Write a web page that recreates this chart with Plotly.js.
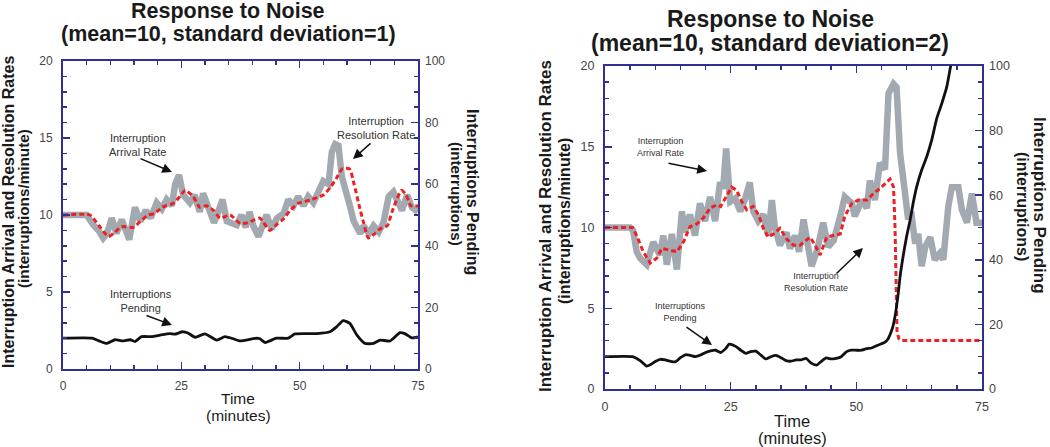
<!DOCTYPE html>
<html>
<head>
<meta charset="utf-8">
<script src="https://cdn.plot.ly/plotly-3.0.1.min.js"></script>
<style>
  html, body { margin: 0; padding: 0; background: #ffffff; }
  #chart { width: 1050px; height: 447px; }
</style>
</head>
<body>
<div id="chart"></div>
<script>
// ---------------- DATA ----------------
// Left panel (standard deviation = 1)
const arrivalT1 = [0,5,6.4,7.5,8.5,9.3,10.3,11.3,12.4,13.4,14.0,15.2,16.3,17.5,18.5,19.8,20.9,21.9,23.0,23.7,24.5,25.4,26.8,27.8,28.9,29.6,30.7,31.9,32.8,33.7,34.6,35.5,36.7,37.7,38.6,39.4,40.2,41.3,42.3,43.0,44.1,45.2,46.6,47.6,48.7,49.7,50.8,51.8,52.9,54.0,55.0,56.1,56.8,57.5,58.2,58.9,60.0,60.7,61.4,62.1,62.8,63.5,64.6,65.6,66.7,67.7,68.8,69.8,70.9,71.6,72.7,73.7,75];
const arrival1 = [10,10,9.35,9.0,8.5,8.8,9.8,8.8,9.7,9.0,8.4,10.5,9.6,10.3,9.8,10.8,10.4,11.0,10.6,12.0,12.6,11.3,10.8,11.3,10.2,11.4,10.4,9.5,10.2,11.0,9.6,9.5,9.35,10.0,9.2,10.2,9.3,8.6,9.3,10.0,9.1,9.8,10.1,11.0,10.6,11.2,10.6,11.2,10.8,11.5,12.2,12.0,14.1,14.6,14.5,12.5,11.0,10.5,9.6,9.2,8.8,9.3,8.8,9.3,8.9,9.5,11.2,11.5,10.6,10.3,11.3,10.5,10.2];

const resolutionT1 = [0,5.7,7.5,9.6,11,12.4,14.8,16.3,18,19.4,20.9,23.3,24.7,25.8,27.5,28.9,30.3,31.8,33.2,35.3,37.4,39,40.5,41.6,43.7,45.2,46.5,48,49.7,52.2,55,56.5,57.8,59,60.5,61.5,62.5,63.5,64.5,65.5,67,68.5,69.5,70.5,71.5,72.5,73.5,75];
const resolution1 = [10,10,9.35,8.6,8.9,9.24,9.2,9.57,10.0,10.1,10.5,10.76,11.2,11.6,11.2,10.5,10.6,10.3,9.8,10.0,9.46,9.5,9.7,9.8,9.0,9.4,9.72,10.3,10.76,10.97,11.3,11.8,12.4,13.0,13.0,12.0,10.7,9.5,8.5,8.7,9.1,9.3,10.2,11.0,11.6,11.3,10.6,10.6];

const pendingT1 = [0,6.1,7.5,9.2,11,12.6,14.2,15.2,16.6,18.7,20.5,22.6,23.6,25.3,26.5,27.9,30,32.5,34.2,35.8,37.4,40.6,41.5,42.7,45.1,47.6,49,53.6,56.4,57.8,59.2,60.6,62.1,63.8,65.6,67,69.1,71.2,72.2,73.7,75];
const pending1 = [10,10,9.2,8.3,9.5,9.1,9.5,8.9,10.5,10.5,11,11.5,11.3,12.1,11.6,10.3,11.4,9.4,10.5,9.9,9.1,9.96,9.9,8.6,10,10,11.4,11.5,12.1,13.7,15.7,14.8,11,8.3,8.3,9.4,9.1,11.8,11.5,10.1,10.4];

// Right panel (standard deviation = 2)
const arrivalT2 = [0,5,5.6,6.3,7.0,8.3,9.6,10.9,11.6,12.3,13.3,14.3,15.3,15.9,16.9,17.9,18.9,19.9,20.9,21.9,22.9,23.5,24.1,24.9,25.9,26.9,27.9,28.8,29.5,30.5,31.5,32.5,33.2,33.8,34.8,36.1,36.8,37.8,38.6,39.5,40.3,41.1,42.2,43.4,44.4,45.5,46.8,47.7,49.1,49.7,51.1,52.1,52.7,53.7,54.7,55.7,56.4,57.4,58.0,58.7,59.7,60.3,60.9,61.7,62.3,63.0,63.7,64.7,65.6,66.6,67.3,68.3,69.0,70.3,71.0,72.0,73.0,73.9,75];
const arrival2 = [10,10,9.8,8.5,8.1,7.7,9.1,8.3,9.5,7.7,9.6,7.4,11.0,9.7,10.8,9.5,11.5,10.4,11.9,10.4,12.8,12.4,14.9,11.6,11.8,11.0,11.8,12.8,11.0,10.4,10.8,9.5,11.7,10.0,8.9,9.7,8.7,9.5,8.5,10.5,9.0,7.6,8.6,10.3,8.8,9.2,10.7,11.9,11.5,10.7,11.7,11.2,12.9,11.7,14.0,13.6,18.3,18.9,18.7,14.6,12.1,10.5,11.0,9.0,9.6,7.6,8.8,9.4,8.0,8.4,8.0,11.3,12.5,12.5,11.1,10.3,12.1,10.3,10.3];

const resolutionT2 = [0,5.5,6.3,7.6,9.0,10.3,11.3,12.9,14.3,15.6,16.9,18.2,19.6,20.9,22.2,23.0,24.2,25.2,26.2,27.2,28.2,29.5,30.5,31.5,32.5,33.5,34.8,36.1,37.5,38.8,40.8,41.8,42.8,44.1,45.4,46.8,47.7,49.1,50.4,52.1,53.4,55.0,56.7,57.4,57.7,57.9,58.1,58.5,59.0,75];
const resolution2 = [10,10,9.5,8.5,7.8,8.1,8.7,8.6,8.5,9.1,10.05,10.2,10.6,11.2,11.4,11.3,12.0,12.5,12.3,11.6,11.1,11.3,10.8,9.95,9.4,9.6,9.95,9.3,8.9,8.9,9.4,8.9,8.3,9.4,9.5,9.6,10.7,11.5,11.7,11.7,12.1,12.5,13.0,12.5,10.0,5.5,3.5,3.1,3.0,3.0];

const pendingT2 = [0,5.5,7,8.3,9,10,11,12,13,14,15,16,17,18,19,20,21,22,23,24,24.7,26,27,28,29,30,31,32,33,34,35,36,37,38,39,40,41,42.1,43,44,45,46,47,48,49,50,51,52,53,54,55,55.7,56.3,56.8,57.3,57.7,58.0,58.4,58.7,59.3,60,60.7,61.3,62,63,64,65,66,67,68,68.8,69.3];
const pending2 = [10,10,8.8,7.1,7.5,8.5,9.2,9.0,8.6,8.4,9.7,10.6,10.4,10.0,10.5,11.3,11.8,12.0,11.3,12.5,13.9,13.2,12.0,11.0,11.6,11.7,10.5,9.3,10.0,10.4,9.7,8.8,8.6,9.0,9.0,9.5,8.0,7.4,8.5,9.6,9.3,9.5,10.0,11.5,12.0,12.0,12.0,12.5,12.7,13.4,14.0,14.5,15.5,17.2,19.5,22.5,25.5,30.5,34.8,41,47.2,52.3,57.5,62.6,67.8,71.9,77.1,83.8,88.4,93.6,100.3,104];

const xTicks = [0, 25, 50, 75];
const titleLine1 = "Response to Noise";
const titleLine2 = ["(mean=10, standard deviation=1)", "(mean=10, standard deviation=2)"];
const yTitle = ["Interruption Arrival and Resolution Rates", "(interruptions/minute)"];
const y2Title = ["Interruptions Pending", "(interruptions)"];
const xTitle = ["Time", "(minutes)"];
const labelArrival = "Interruption<br>Arrival Rate";
const labelResolution = "Interruption<br>Resolution Rate";
const labelPending = "Interruptions<br>Pending";

// ---------------- STYLE ----------------
const W = 1050, H = 447;
const FONT = "Liberation Sans, Arial, Helvetica, sans-serif";
const NAVY = "rgb(46,49,146)";
const GRAY = "rgb(163,169,177)";
const RED = "rgb(237,32,36)";
const BLACK = "#111111";
const px = x => x / W;
const py = y => 1 - y / H;

function grayTrace(x, y, xa, ya) {
  return {x, y, xaxis: xa, yaxis: ya, mode: "lines", type: "scatter",
          line: {color: GRAY, width: 6.5}, hoverinfo: "skip", showlegend: false};
}
function redTrace(x, y, xa, ya, smooth) {
  return {x, y, xaxis: xa, yaxis: ya, mode: "lines", type: "scatter",
          line: {color: RED, width: 3, dash: "5px,3px", shape: smooth ? "spline" : "linear", smoothing: 0.6},
          hoverinfo: "skip", showlegend: false};
}
function blackTrace(x, y, xa, ya) {
  return {x, y, xaxis: xa, yaxis: ya, mode: "lines", type: "scatter",
          line: {color: BLACK, width: 2.8, shape: "spline", smoothing: 0.5}, hoverinfo: "skip", showlegend: false};
}

const traces = [
  grayTrace(arrivalT1, arrival1, "x", "y"),
  redTrace(resolutionT1, resolution1, "x", "y", true),
  blackTrace(pendingT1, pending1, "x", "y2"),
  grayTrace(arrivalT2, arrival2, "x2", "y3"),
  redTrace(resolutionT2, resolution2, "x2", "y3", false),
  blackTrace(pendingT2, pending2, "x2", "y4")
];

function xAxis(domain, anchor, fs) {
  return {domain, anchor, range: [0, 75], tickvals: xTicks, ticks: "inside", ticklen: 7,
          tickwidth: 1.5, tickcolor: NAVY, showline: true, linecolor: NAVY, linewidth: 2,
          mirror: "ticks", showgrid: false, zeroline: false, ticklabelstandoff: 5,
          tickfont: {family: FONT, size: fs, color: "#444"},
          minor: {dtick: 5, ticks: "inside", ticklen: 4, tickwidth: 1.5, tickcolor: NAVY, showgrid: false}};
}
function yAxisL(domain, anchor, fs) {
  return {domain, anchor, range: [0, 20], dtick: 5, ticks: "inside", ticklen: 7,
          tickwidth: 1.5, tickcolor: NAVY, showline: true, linecolor: NAVY, linewidth: 2,
          mirror: true, showgrid: false, zeroline: false, ticklabelstandoff: 6,
          tickfont: {family: FONT, size: fs, color: "#444"},
          minor: {dtick: 1, ticks: "inside", ticklen: 4, tickwidth: 1.5, tickcolor: NAVY, showgrid: false}};
}
function yAxisR(over, anchor, fs) {
  return {overlaying: over, anchor, side: "right", range: [0, 100], dtick: 20, ticks: "inside", ticklen: 7,
          tickwidth: 1.5, tickcolor: NAVY, showline: false, showgrid: false, zeroline: false,
          ticklabelstandoff: 6, tickfont: {family: FONT, size: fs, color: "#444"},
          minor: {dtick: 5, ticks: "inside", ticklen: 4, tickwidth: 1.5, tickcolor: NAVY, showgrid: false}};
}

function txt(text, x, y, size, opts) {
  return Object.assign({text, xref: "paper", yref: "paper", x: px(x), y: py(y),
          xanchor: "center", yanchor: "middle", showarrow: false,
          font: {family: FONT, size, color: "#1a1a1a"}}, opts || {});
}
function arrow(tipX, tipY, tailX, tailY) {
  return {text: "", xref: "paper", yref: "paper", x: px(tipX), y: py(tipY),
          ax: tailX - tipX, ay: tailY - tipY, showarrow: true, arrowhead: 2,
          arrowsize: 1.3, arrowwidth: 1.5, arrowcolor: "#111"};
}
const small = (s) => ({font: {family: FONT, size: s, color: "#333"}});

const annotations = [
  // Left panel titles
  txt("<b>" + titleLine1 + "</b>", 228, 11.5, 21.5),
  txt("<b>" + titleLine2[0] + "</b>", 228, 33.5, 21.5),
  txt("<b>" + yTitle[0] + "</b>", 8, 212, 16, {textangle: -90}),
  txt("<b>" + yTitle[1] + "</b>", 24, 209, 15.3, {textangle: -90}),
  txt("<b>" + y2Title[0] + "</b>", 473, 192, 16, {textangle: 90}),
  txt("<b>" + y2Title[1] + "</b>", 457, 194, 15.2, {textangle: 90}),
  txt(xTitle[0], 238, 398, 15.5),
  txt(xTitle[1], 238, 415, 15.5),
  txt(labelArrival, 137, 144.5, 11, small(11)),
  txt(labelResolution, 376, 128, 11, small(11)),
  txt(labelPending, 141, 300.5, 11, small(11)),
  arrow(172, 172, 139, 158),
  arrow(353, 159, 372, 142),
  arrow(172, 325, 145, 315),
  // Right panel titles
  txt("<b>" + titleLine1 + "</b>", 770, 19, 23),
  txt("<b>" + titleLine2[1] + "</b>", 770, 42.5, 23),
  txt("<b>" + yTitle[0] + "</b>", 545, 226, 17, {textangle: -90}),
  txt("<b>" + yTitle[1] + "</b>", 564, 221, 16, {textangle: -90}),
  txt("<b>" + y2Title[0] + "</b>", 1040, 205, 17, {textangle: 90}),
  txt("<b>" + y2Title[1] + "</b>", 1023, 206, 16, {textangle: 90}),
  txt(xTitle[0], 792, 421, 16.5),
  txt(xTitle[1], 792, 438, 16.5),
  txt(labelArrival, 660, 146.5, 9, small(9)),
  txt(labelResolution, 816, 282, 9, small(9)),
  txt(labelPending, 680, 312, 9, small(9)),
  arrow(707, 171, 667, 163),
  arrow(863, 248, 835, 275),
  arrow(712, 345, 685, 326)
];

const layout = {
  width: W, height: H,
  margin: {l: 0, r: 0, t: 0, b: 0},
  paper_bgcolor: "#ffffff", plot_bgcolor: "#ffffff",
  showlegend: false,
  font: {family: FONT},
  xaxis: xAxis([px(63), px(418)], "y", 12),
  yaxis: yAxisL([py(369), py(61)], "x", 12),
  yaxis2: yAxisR("y", "x", 12),
  xaxis2: xAxis([px(605), px(982)], "y3", 12.5),
  yaxis3: yAxisL([py(389), py(66)], "x2", 12.5),
  yaxis4: yAxisR("y3", "x2", 12.5),
  annotations
};

Plotly.newPlot("chart", traces, layout, {staticPlot: true, displayModeBar: false});
</script>
</body>
</html>
